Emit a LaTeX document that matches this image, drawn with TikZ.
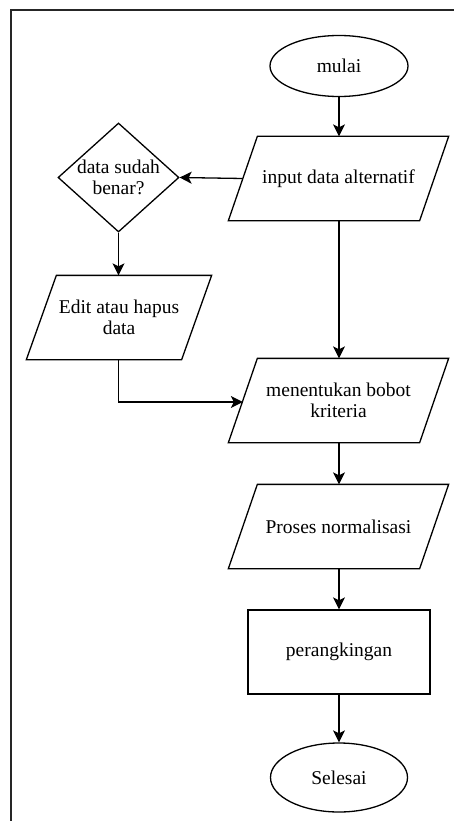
\documentclass[tikz,border=0pt]{standalone}
\usepackage{fontspec}
\setmainfont{Liberation Serif}
\usetikzlibrary{shapes.geometric,arrows.meta}
\begin{document}
\begin{tikzpicture}[x=1pt,y=-1pt,
  every node/.style={font=\fontsize{19.5pt}{21.5pt}\selectfont, inner sep=0pt, line width=1.3pt},
  term/.style={ellipse, draw},
  io/.style={rectangle, align=center, minimum height=83pt},
  shapeline/.style={line width=1.3pt, line join=miter},
  proc/.style={rectangle, draw, minimum width=182pt, minimum height=84pt},
  dec/.style={diamond, draw, minimum width=121pt, minimum height=109pt},
  flow/.style={line width=1.3pt, -{Stealth[length=12pt,width=12pt,inset=3pt]}},
  frame/.style={line width=1.5pt, draw=black!85}]
\useasboundingbox (0,0) rectangle (454,821);
\draw[frame] (11,821) -- (11,10) -- (454,10);

\node[term, minimum width=138pt, minimum height=61pt] (mulai) at (339,66) {mulai};
\node[io, minimum width=219pt] (input) at (338.5,178.5) {input data alternatif};
\node[dec, label={[align=center]center:data sudah\\benar?}] (cek) at (118.5,177.5) {};
\node[io, minimum width=184pt] (edit) at (119,317.5) {Edit atau hapus\\data};
\node[io, minimum width=219pt] (bobot) at (338.5,400.5) {menentukan bobot\\kriteria};
\node[io, minimum width=219pt] (norm) at (338.5,526.5) {Proses normalisasi};
\node[proc] (rank) at (339,652) {perangkingan};
\node[term, minimum width=137pt, minimum height=69pt] (selesai) at (339,777.5) {Selesai};

% parallelogram outlines
\foreach \n in {input,bobot,norm}{
  \draw[shapeline] (\n.south west) -- ([xshift=-29pt]\n.south east) -- (\n.north east) -- ([xshift=29pt]\n.north west) -- cycle;
}
\draw[shapeline] (edit.south west) -- ([xshift=-30pt]edit.south east) -- (edit.north east) -- ([xshift=30pt]edit.north west) -- cycle;

\draw[flow] (mulai.south) -- (mulai.south |- input.north);
\draw[flow] ([xshift=14.5pt]input.west) -- (cek.east);
\draw[flow] (cek.south) -- (cek.south |- edit.north);
\draw[flow] (cek.south |- edit.south) |- ([xshift=14.5pt,yshift=-1.5pt]bobot.west);
\draw[flow] (mulai.south |- input.south) -- (mulai.south |- bobot.north);
\draw[flow] (mulai.south |- bobot.south) -- (mulai.south |- norm.north);
\draw[flow] (mulai.south |- norm.south) -- (rank.north);
\draw[flow] (rank.south) -- (selesai.north);
\end{tikzpicture}
\end{document}
